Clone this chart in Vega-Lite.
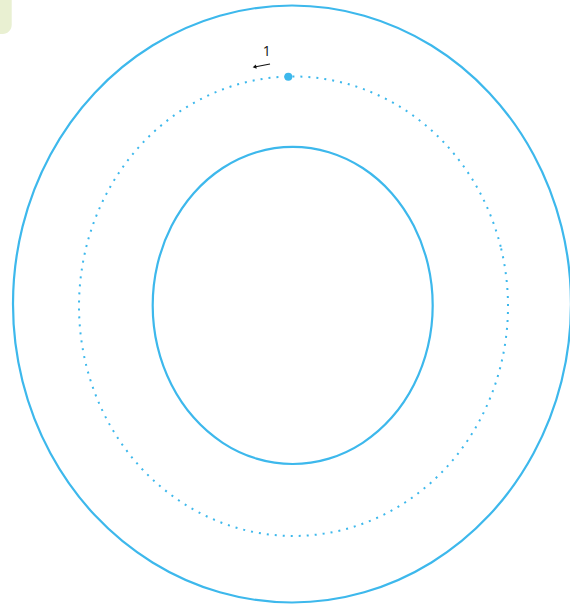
{
  "$schema": "https://vega.github.io/schema/vega-lite/v6.json",
  "width": 570,
  "height": 606,
  "padding": 0,
  "autosize": {"type": "none"},
  "background": "white",
  "config": {"view": {"stroke": null}},
  "datasets": {
    "rings": [
      {"ring": "outer", "i": 0, "x": 279, "y": 0},
      {"ring": "outer", "i": 1, "x": 269.5, "y": 77.3},
      {"ring": "outer", "i": 2, "x": 241.6, "y": 149.3},
      {"ring": "outer", "i": 3, "x": 197.3, "y": 211.1},
      {"ring": "outer", "i": 4, "x": 139.5, "y": 258.5},
      {"ring": "outer", "i": 5, "x": 72.2, "y": 288.3},
      {"ring": "outer", "i": 6, "x": 0, "y": 298.5},
      {"ring": "outer", "i": 7, "x": -72.2, "y": 288.3},
      {"ring": "outer", "i": 8, "x": -139.5, "y": 258.5},
      {"ring": "outer", "i": 9, "x": -197.3, "y": 211.1},
      {"ring": "outer", "i": 10, "x": -241.6, "y": 149.3},
      {"ring": "outer", "i": 11, "x": -269.5, "y": 77.3},
      {"ring": "outer", "i": 12, "x": -279, "y": 0},
      {"ring": "outer", "i": 13, "x": -269.5, "y": -77.3},
      {"ring": "outer", "i": 14, "x": -241.6, "y": -149.3},
      {"ring": "outer", "i": 15, "x": -197.3, "y": -211.1},
      {"ring": "outer", "i": 16, "x": -139.5, "y": -258.5},
      {"ring": "outer", "i": 17, "x": -72.2, "y": -288.3},
      {"ring": "outer", "i": 18, "x": 0, "y": -298.5},
      {"ring": "outer", "i": 19, "x": 72.2, "y": -288.3},
      {"ring": "outer", "i": 20, "x": 139.5, "y": -258.5},
      {"ring": "outer", "i": 21, "x": 197.3, "y": -211.1},
      {"ring": "outer", "i": 22, "x": 241.6, "y": -149.3},
      {"ring": "outer", "i": 23, "x": 269.5, "y": -77.3},
      {"ring": "inner", "i": 0, "x": 140.7, "y": -1.4},
      {"ring": "inner", "i": 1, "x": 135.9, "y": 39.7},
      {"ring": "inner", "i": 2, "x": 121.9, "y": 77.9},
      {"ring": "inner", "i": 3, "x": 99.7, "y": 110.8},
      {"ring": "inner", "i": 4, "x": 70.7, "y": 136.0},
      {"ring": "inner", "i": 5, "x": 36.9, "y": 151.8},
      {"ring": "inner", "i": 6, "x": 0.7, "y": 157.2},
      {"ring": "inner", "i": 7, "x": -35.5, "y": 151.8},
      {"ring": "inner", "i": 8, "x": -69.3, "y": 136.0},
      {"ring": "inner", "i": 9, "x": -98.3, "y": 110.8},
      {"ring": "inner", "i": 10, "x": -120.5, "y": 77.9},
      {"ring": "inner", "i": 11, "x": -134.5, "y": 39.7},
      {"ring": "inner", "i": 12, "x": -139.3, "y": -1.4},
      {"ring": "inner", "i": 13, "x": -134.5, "y": -42.5},
      {"ring": "inner", "i": 14, "x": -120.5, "y": -80.7},
      {"ring": "inner", "i": 15, "x": -98.3, "y": -113.6},
      {"ring": "inner", "i": 16, "x": -69.3, "y": -138.8},
      {"ring": "inner", "i": 17, "x": -35.5, "y": -154.6},
      {"ring": "inner", "i": 18, "x": 0.7, "y": -160.0},
      {"ring": "inner", "i": 19, "x": 36.9, "y": -154.6},
      {"ring": "inner", "i": 20, "x": 70.7, "y": -138.8},
      {"ring": "inner", "i": 21, "x": 99.7, "y": -113.6},
      {"ring": "inner", "i": 22, "x": 121.9, "y": -80.7},
      {"ring": "inner", "i": 23, "x": 135.9, "y": -42.5},
      {"ring": "dotted", "i": 0, "x": 216.0, "y": -2.3},
      {"ring": "dotted", "i": 1, "x": 208.7, "y": 57.2},
      {"ring": "dotted", "i": 2, "x": 187.3, "y": 112.6},
      {"ring": "dotted", "i": 3, "x": 153.2, "y": 160.2},
      {"ring": "dotted", "i": 4, "x": 108.8, "y": 196.7},
      {"ring": "dotted", "i": 5, "x": 57.0, "y": 219.7},
      {"ring": "dotted", "i": 6, "x": 1.5, "y": 227.5},
      {"ring": "dotted", "i": 7, "x": -54.0, "y": 219.7},
      {"ring": "dotted", "i": 8, "x": -105.8, "y": 196.7},
      {"ring": "dotted", "i": 9, "x": -150.2, "y": 160.2},
      {"ring": "dotted", "i": 10, "x": -184.3, "y": 112.6},
      {"ring": "dotted", "i": 11, "x": -205.7, "y": 57.2},
      {"ring": "dotted", "i": 12, "x": -213.0, "y": -2.3},
      {"ring": "dotted", "i": 13, "x": -205.7, "y": -61.7},
      {"ring": "dotted", "i": 14, "x": -184.3, "y": -117.1},
      {"ring": "dotted", "i": 15, "x": -150.2, "y": -164.7},
      {"ring": "dotted", "i": 16, "x": -105.8, "y": -201.2},
      {"ring": "dotted", "i": 17, "x": -54.0, "y": -224.2},
      {"ring": "dotted", "i": 18, "x": 1.5, "y": -232.0},
      {"ring": "dotted", "i": 19, "x": 57.0, "y": -224.2},
      {"ring": "dotted", "i": 20, "x": 108.8, "y": -201.2},
      {"ring": "dotted", "i": 21, "x": 153.2, "y": -164.7},
      {"ring": "dotted", "i": 22, "x": 187.3, "y": -117.1},
      {"ring": "dotted", "i": 23, "x": 208.7, "y": -61.7}
    ],
    "marker": [{"x": -3.7, "y": 227.3}],
    "label": [{"x": -25.3, "y": 252.5, "text": "1"}],
    "arrow": [{"x": -22, "y": 240, "x2": -37.5, "y2": 237}],
    "arrowhead": [{"x": -37.5, "y": 237}],
    "legendbox": [{"x": -302, "x2": -280.3, "y": 314, "y2": 270}]
  },
  "encoding": {
    "x": {"field": "x", "type": "quantitative", "scale": {"domain": [-292, 278], "nice": false, "zero": false}, "axis": null},
    "y": {"field": "y", "type": "quantitative", "scale": {"domain": [-302, 304], "nice": false, "zero": false}, "axis": null}
  },
  "layer": [
    {
      "data": {"name": "legendbox"},
      "mark": {"type": "rect", "color": "#e9f0d2", "cornerRadius": 9, "clip": false},
      "encoding": {"x2": {"field": "x2"}, "y2": {"field": "y2"}}
    },
    {
      "data": {"name": "rings"},
      "transform": [{"filter": "datum.ring !== 'dotted'"}],
      "mark": {"type": "line", "interpolate": "cardinal-closed", "stroke": "#3db8ec", "strokeWidth": 2.2, "clip": false},
      "encoding": {"detail": {"field": "ring"}, "order": {"field": "i", "type": "quantitative"}}
    },
    {
      "data": {"name": "rings"},
      "transform": [{"filter": "datum.ring === 'dotted'"}],
      "mark": {"type": "line", "interpolate": "cardinal-closed", "stroke": "#3db8ec", "strokeWidth": 2, "strokeDash": [2, 6], "clip": false},
      "encoding": {"detail": {"field": "ring"}, "order": {"field": "i", "type": "quantitative"}}
    },
    {
      "data": {"name": "marker"},
      "mark": {"type": "point", "shape": "circle", "filled": true, "size": 64, "color": "#3db8ec", "opacity": 1}
    },
    {
      "data": {"name": "arrow"},
      "mark": {"type": "rule", "color": "#111111", "strokeWidth": 1.2},
      "encoding": {"x2": {"field": "x2"}, "y2": {"field": "y2"}}
    },
    {
      "data": {"name": "arrowhead"},
      "mark": {"type": "point", "shape": "triangle-left", "filled": true, "size": 18, "angle": -11, "color": "#111111", "opacity": 1}
    },
    {
      "data": {"name": "label"},
      "mark": {"type": "text", "font": "Open Sans", "fontSize": 14, "color": "#111111", "align": "center", "baseline": "middle"},
      "encoding": {"text": {"field": "text"}}
    }
  ]
}
